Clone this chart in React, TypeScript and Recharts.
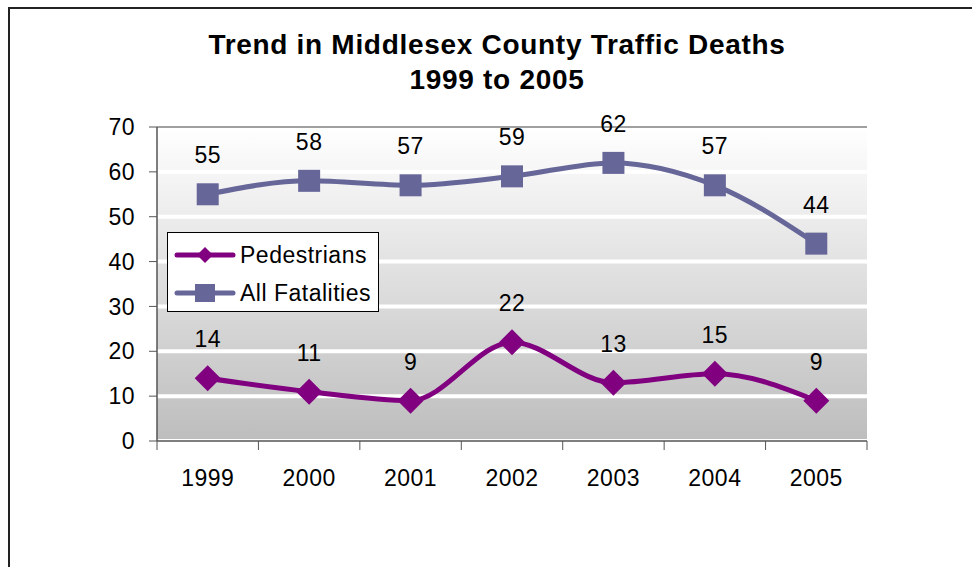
import { CartesianGrid, LabelList, Legend, Line, LineChart, ReferenceLine, XAxis, YAxis } from "recharts";

const years = ["1999", "2000", "2001", "2002", "2003", "2004", "2005"];
const pedestrians = [14, 11, 9, 22, 13, 15, 9];
const allFatalities = [55, 58, 57, 59, 62, 57, 44];
const yTicks = [0, 10, 20, 30, 40, 50, 60, 70];

const data = years.map((year, i) => ({
  year,
  Pedestrians: pedestrians[i],
  "All Fatalities": allFatalities[i],
}));

const FONT = "Arial, 'Liberation Sans', sans-serif";
const PED = "#800080";
const ALL = "#666699";
const FS = 23;
const LS = 0.5;

const W = 972;
const H = 567;
const M = { top: 127, right: 105, bottom: 96, left: 107 };
const Y_W = 50;
const X_H = 30;
const PLOT_LEFT = M.left + Y_W;
const PLOT_RIGHT = W - M.right;
const AXIS_Y = H - M.bottom - X_H;
const HALF_BAND = (PLOT_RIGHT - PLOT_LEFT) / years.length / 2;

const Square = (props: any) => {
  const { cx, cy, size = 11, fill } = props;
  if (cx == null || cy == null) return null;
  return <rect x={cx - size} y={cy - size} width={size * 2} height={size * 2} fill={fill} />;
};

const Diamond = (props: any) => {
  const { cx, cy, size = 13, fill } = props;
  if (cx == null || cy == null) return null;
  return (
    <path
      d={`M${cx},${cy - size}L${cx + size},${cy}L${cx},${cy + size}L${cx - size},${cy}Z`}
      fill={fill}
    />
  );
};

const XTick = (props: any) => {
  const { x, payload, index } = props;
  return (
    <g>
      <line x1={x - HALF_BAND} y1={AXIS_Y} x2={x - HALF_BAND} y2={AXIS_Y + 9} stroke="#555" />
      {index === years.length - 1 && (
        <line x1={x + HALF_BAND} y1={AXIS_Y} x2={x + HALF_BAND} y2={AXIS_Y + 9} stroke="#555" />
      )}
      <text
        x={x}
        y={AXIS_Y + 45}
        textAnchor="middle"
        fontSize={FS}
        fontFamily={FONT}
        letterSpacing={LS}
        fill="#000"
      >
        {payload.value}
      </text>
    </g>
  );
};

const YTick = (props: any) => {
  const { x, y, payload } = props;
  return (
    <text
      x={x}
      y={y}
      dy="0.355em"
      textAnchor="end"
      fontSize={FS}
      fontFamily={FONT}
      letterSpacing={LS}
      fill="#000"
    >
      {payload.value}
    </text>
  );
};

const LegendBox = () => (
  <div
    style={{
      border: "1px solid #000",
      background: "#fff",
      width: 212,
      height: 80,
      boxSizing: "border-box",
      fontFamily: FONT,
      fontSize: FS,
      letterSpacing: LS,
      color: "#000",
      padding: "3px 0 0 6px",
    }}
  >
    {[
      { name: "Pedestrians", color: PED, shape: "diamond" },
      { name: "All Fatalities", color: ALL, shape: "square" },
    ].map((e) => (
      <div key={e.name} style={{ display: "flex", alignItems: "center", height: 38 }}>
        <svg width={62} height={24} style={{ marginRight: 4 }}>
          <line x1={3} y1={12} x2={59} y2={12} stroke={e.color} strokeWidth={5} strokeLinecap="round" />
          {e.shape === "diamond" ? (
            <path d="M31,4L39,12L31,20L23,12Z" fill={e.color} />
          ) : (
            <rect x={21} y={3} width={20} height={18} fill={e.color} />
          )}
        </svg>
        <span>{e.name}</span>
      </div>
    ))}
  </div>
);

export default function App() {
  return (
    <div
      style={{
        position: "absolute",
        left: 0,
        top: 0,
        width: W,
        height: H,
        overflow: "hidden",
        background: "#fff",
      }}
    >
      <div
        style={{
          position: "absolute",
          left: 8,
          top: 7,
          width: 1000,
          height: 600,
          border: "2px solid #222",
        }}
      />
      <div
        style={{
          position: "absolute",
          left: 0,
          width: 994,
          top: 27,
          textAlign: "center",
          fontFamily: FONT,
          fontWeight: "bold",
          fontSize: 28,
          lineHeight: "35px",
          letterSpacing: 0.7,
          color: "#000",
        }}
      >
        Trend in Middlesex County Traffic Deaths
        <br />
        1999 to 2005
      </div>
      <div style={{ position: "absolute", left: 0, top: 0 }}>
        <LineChart width={W} height={H} data={data} margin={M}>
          <defs>
            <linearGradient id="plotBg" x1="0" y1="0" x2="0" y2="1">
              <stop offset="0%" stopColor="#ffffff" />
              <stop offset="100%" stopColor="#bdbdbd" />
            </linearGradient>
          </defs>
          <CartesianGrid
            vertical={false}
            stroke="#ffffff"
            strokeWidth={4}
            fill="url(#plotBg)"
            fillOpacity={1}
          />
          <ReferenceLine y={70} stroke="#808080" strokeWidth={1.5} />
          <XAxis
            dataKey="year"
            height={X_H}
            padding={{ left: HALF_BAND, right: HALF_BAND }}
            axisLine={{ stroke: "#555", strokeWidth: 1.5 }}
            tickLine={false}
            tick={<XTick />}
            interval={0}
          />
          <YAxis
            width={Y_W}
            domain={[0, 70]}
            ticks={yTicks}
            interval={0}
            axisLine={{ stroke: "#555", strokeWidth: 1.5 }}
            tickLine={{ stroke: "#555" }}
            tickSize={8}
            tickMargin={14}
            tick={<YTick />}
          />
          <YAxis
            yAxisId="right"
            orientation="right"
            width={0}
            domain={[0, 70]}
            tick={false}
            tickLine={false}
            axisLine={{ stroke: "#808080", strokeWidth: 1.5 }}
          />
          <Legend
            layout="horizontal"
            verticalAlign="middle"
            align="center"
            content={<LegendBox />}
            wrapperStyle={{ left: 167, top: 232, width: 212, height: 80 }}
          />
          <Line
            type="monotone"
            dataKey="Pedestrians"
            stroke={PED}
            strokeWidth={5}
            dot={<Diamond fill={PED} size={13} />}
            activeDot={false}
            isAnimationActive={false}
          >
            <LabelList
              dataKey="Pedestrians"
              position="top"
              offset={31}
              fontSize={FS}
              fontFamily={FONT}
              letterSpacing={LS}
              fill="#000"
            />
          </Line>
          <Line
            type="monotone"
            dataKey="All Fatalities"
            stroke={ALL}
            strokeWidth={5}
            dot={<Square fill={ALL} size={11} />}
            activeDot={false}
            isAnimationActive={false}
          >
            <LabelList
              dataKey="All Fatalities"
              position="top"
              offset={31}
              fontSize={FS}
              fontFamily={FONT}
              letterSpacing={LS}
              fill="#000"
            />
          </Line>
        </LineChart>
      </div>
    </div>
  );
}
